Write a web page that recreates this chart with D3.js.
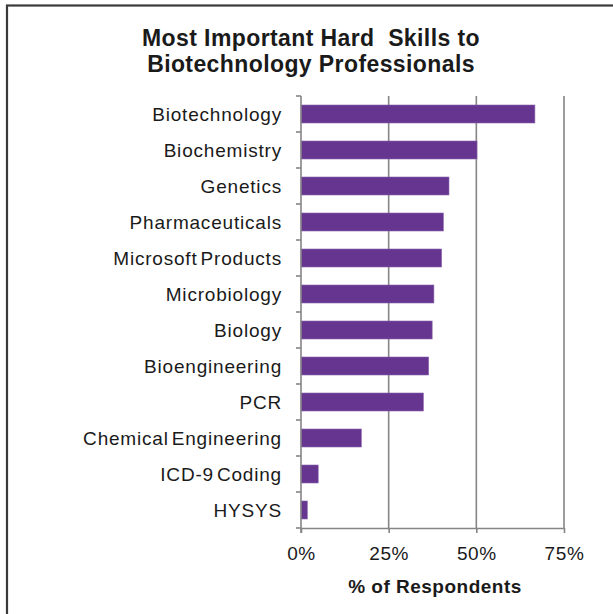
<!DOCTYPE html>
<html>
<head>
<meta charset="utf-8">
<script src="https://cdn.jsdelivr.net/npm/d3@7"></script>
<style>
  html, body { margin: 0; padding: 0; background: #fff; }
  svg { display: block; }
  text { font-family: Arial, "Liberation Sans", sans-serif; fill: #1a1a1a; }
</style>
</head>
<body>
<svg id="chart" width="613" height="614"></svg>
<script>
// Skill names, top to bottom, and share of respondents (fraction)
const skills = [
  "Biotechnology", "Biochemistry", "Genetics", "Pharmaceuticals",
  "Microsoft Products", "Microbiology", "Biology", "Bioengineering",
  "PCR", "Chemical Engineering", "ICD-9 Coding", "HYSYS"
];
const shares = [
  0.667, 0.502, 0.422, 0.406,
  0.401, 0.379, 0.374, 0.364,
  0.349, 0.172, 0.049, 0.018
];
const tickValues = [0, 0.25, 0.5, 0.75];
const titleLines = ["Most Important Hard  Skills to", "Biotechnology Professionals"];
const xTitle = "% of Respondents";

const svg = d3.select("#chart");
const W = 613, H = 614;
const plot = { left: 301, right: 564, top: 96, bottom: 528 };

// outer frame (runs past the right and bottom edges)
svg.append("rect")
  .attr("x", 7).attr("y", 5.5)
  .attr("width", W + 20).attr("height", H + 20)
  .attr("fill", "#fff")
  .attr("stroke", "#3a3a3a")
  .attr("stroke-width", 2.2);

// title
const title = svg.append("text")
  .attr("text-anchor", "middle")
  .style("font-weight", "bold")
  .style("font-size", "23px")
  .style("letter-spacing", "0.4px");
titleLines.forEach((line, i) => {
  title.append("tspan")
    .attr("x", 311)
    .attr("y", 46 + i * 26)
    .attr("xml:space", "preserve")
    .style("white-space", "pre")
    .text(line);
});

const x = d3.scaleLinear().domain([0, 0.75]).range([plot.left, plot.right]);
const y = d3.scaleBand()
  .domain(skills)
  .range([plot.top, plot.bottom])
  .paddingInner(0.5)
  .paddingOuter(0.25);

// vertical gridlines
svg.append("g")
  .selectAll("line")
  .data(tickValues.filter(v => v > 0))
  .join("line")
  .attr("x1", d => x(d)).attr("x2", d => x(d))
  .attr("y1", plot.top).attr("y2", plot.bottom)
  .attr("stroke", "#858585")
  .attr("stroke-width", 1.6);

// bars
svg.append("g")
  .selectAll("rect")
  .data(skills.map((s, i) => ({ skill: s, value: shares[i] })))
  .join("rect")
  .attr("x", x(0))
  .attr("y", d => y(d.skill))
  .attr("width", d => x(d.value) - x(0))
  .attr("height", y.bandwidth())
  .attr("fill", "#663590")
  .attr("stroke", "#8a63ad")
  .attr("stroke-width", 0.6);

// x axis
const xAxis = svg.append("g")
  .attr("transform", `translate(0,${plot.bottom})`)
  .call(d3.axisBottom(x)
    .tickValues(tickValues)
    .tickFormat(d3.format(".0%"))
    .tickSize(5)
    .tickSizeOuter(0)
    .tickPadding(14));
xAxis.select(".domain").attr("stroke", "#858585").attr("stroke-width", 1.6);
xAxis.selectAll(".tick line").attr("stroke", "#858585").attr("stroke-width", 1.6);
xAxis.selectAll(".tick text")
  .style("font-family", "Arial, 'Liberation Sans', sans-serif")
  .style("font-size", "19px")
  .style("letter-spacing", "0.6px")
  .attr("fill", "#1a1a1a");

// y axis: ticks sit on category boundaries
const yAxisG = svg.append("g");
yAxisG.append("line")
  .attr("x1", plot.left).attr("x2", plot.left)
  .attr("y1", plot.top).attr("y2", plot.bottom + 5)
  .attr("stroke", "#858585").attr("stroke-width", 1.6);
const boundaries = skills.map(s => y(s) - y.step() * y.paddingInner() / 2)
  .concat([plot.bottom]);
yAxisG.selectAll("line.tick")
  .data(boundaries)
  .join("line")
  .attr("class", "tick")
  .attr("x1", plot.left - 5).attr("x2", plot.left)
  .attr("y1", d => d).attr("y2", d => d)
  .attr("stroke", "#858585").attr("stroke-width", 1.6);

// category labels
svg.append("g")
  .selectAll("text")
  .data(skills)
  .join("text")
  .attr("x", plot.left - 19)
  .attr("y", d => y(d) + y.bandwidth() / 2)
  .attr("dy", "0.36em")
  .attr("text-anchor", "end")
  .style("font-size", "19px")
  .style("letter-spacing", "0.8px")
  .style("word-spacing", "-3px")
  .text(d => d);

// x axis title
svg.append("text")
  .attr("x", 435)
  .attr("y", 593)
  .attr("text-anchor", "middle")
  .style("font-weight", "bold")
  .style("font-size", "19px")
  .style("letter-spacing", "0.5px")
  .text(xTitle);
</script>
</body>
</html>
